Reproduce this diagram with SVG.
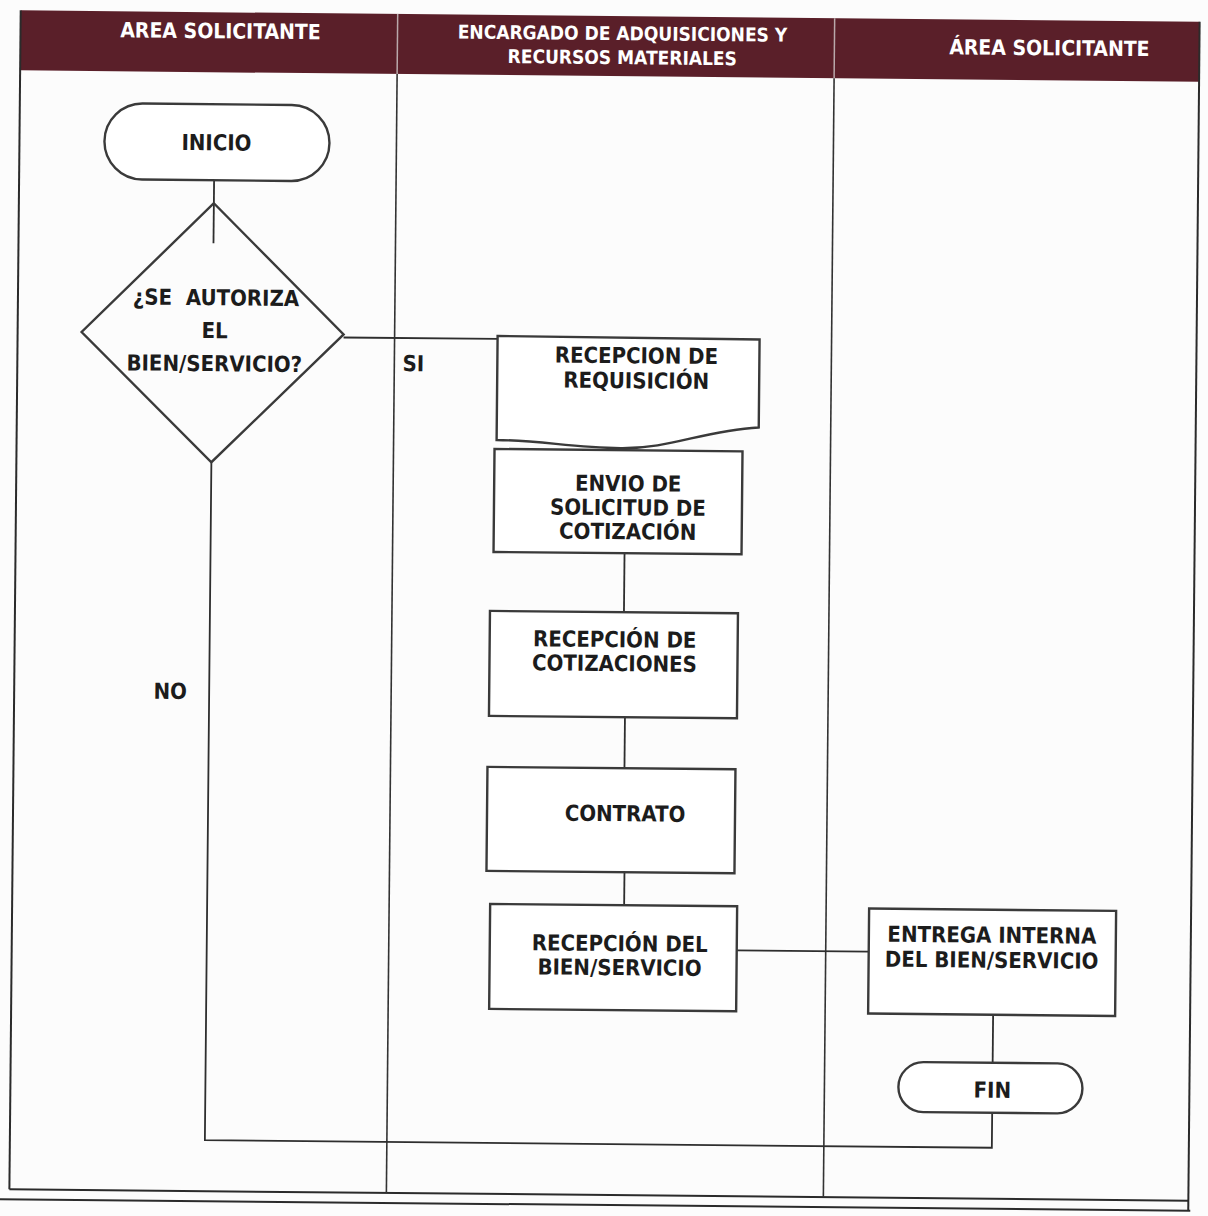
<svg xmlns="http://www.w3.org/2000/svg" width="1208" height="1216" viewBox="0 0 1208 1216">
  <style>
    .frame { fill: none; stroke: #2b2b2b; stroke-width: 2; }
    .lane { fill: none; stroke: #333; stroke-width: 1.6; }
    .shape { fill: #ffffff; stroke: #3a3a3a; stroke-width: 2.4; }
    .conn { fill: none; stroke: #2e2e2e; stroke-width: 1.8; }
    .hdr { fill: #ffffff; font-family: "DejaVu Sans Condensed", "DejaVu Sans", sans-serif; font-weight: bold; font-size: 21px; text-anchor: middle; }
    .hdr2 { font-size: 19px; }
    .lbl { fill: #1c1c1c; font-family: "DejaVu Sans Condensed", "DejaVu Sans", sans-serif; font-weight: bold; font-size: 22px; text-anchor: middle; }
  </style>
  <rect width="1208" height="1216" fill="#fcfcfc"/>
  <g transform="rotate(0.55 604 608)">
    <!-- swimlane frame and header -->
    <g id="lanes">
      <rect x="15" y="16" width="1179" height="60" fill="#5a1f29"/>
      <line x1="392" y1="16" x2="392" y2="76" stroke="#b9a8aa" stroke-width="1.5"/>
      <line x1="829" y1="16" x2="829" y2="76" stroke="#b9a8aa" stroke-width="1.5"/>
      <text class="hdr" x="215" y="42">AREA SOLICITANTE</text>
      <text class="hdr hdr2" x="617" y="40">ENCARGADO DE ADQUISICIONES Y</text>
      <text class="hdr hdr2" x="617" y="64">RECURSOS MATERIALES</text>
      <text class="hdr" x="1044" y="51">ÁREA SOLICITANTE</text>
      <line class="frame" x1="15" y1="16" x2="15" y2="1195"/>
      <line class="frame" x1="1194" y1="16" x2="1194" y2="1205"/>
      <line class="frame" x1="15" y1="1195" x2="1194" y2="1195"/>
      <line class="frame" x1="0" y1="1205" x2="1196" y2="1205"/>
      <line class="lane" x1="392" y1="76" x2="392" y2="1195"/>
      <line class="lane" x1="829" y1="76" x2="829" y2="1195"/>
    </g>

    <!-- connectors -->
    <g id="connectors">
      <line class="conn" x1="210" y1="184" x2="210" y2="247"/>
      <path class="conn" d="M341 340 H495"/>
      <path class="conn" d="M210 466 V1144 H997 V1109"/>
      <line class="conn" x1="624" y1="403" x2="624" y2="450"/>
      <line class="conn" x1="624" y1="553" x2="624" y2="612"/>
      <line class="conn" x1="626" y1="717" x2="626" y2="768"/>
      <line class="conn" x1="627" y1="872" x2="627" y2="905"/>
      <line class="conn" x1="740" y1="949" x2="872" y2="949"/>
      <line class="conn" x1="997" y1="1011" x2="997" y2="1059"/>
      <text class="lbl" x="411" y="373">SI</text>
      <text class="lbl" x="171" y="703">NO</text>
    </g>

    <g id="inicio">
      <rect class="shape" x="100" y="108" width="225" height="76" rx="38"/>
      <text class="lbl" x="212" y="154">INICIO</text>
    </g>

    <g id="autoriza">
      <polygon class="shape" points="210,207 341,337 210,466 79,337" style="fill:none"/>
      <text class="lbl" x="213" y="309" xml:space="preserve">¿SE  AUTORIZA</text>
      <text class="lbl" x="212" y="342">EL</text>
      <text class="lbl" x="212" y="375">BIEN/SERVICIO?</text>
    </g>

    <g id="requisicion">
      <path class="shape" d="M495 337 L757 338 L757 426 C700 430 670 448 619 448 C570 448 540 441 495 441 Z"/>
      <text class="lbl" x="634" y="363">RECEPCION DE</text>
      <text class="lbl" x="634" y="388">REQUISICIÓN</text>
    </g>

    <g id="envio">
      <rect class="shape" x="493" y="450" width="248" height="103"/>
      <text class="lbl" x="627" y="491">ENVIO DE</text>
      <text class="lbl" x="627" y="515">SOLICITUD DE</text>
      <text class="lbl" x="627" y="539">COTIZACIÓN</text>
    </g>

    <g id="cotizaciones">
      <rect class="shape" x="490" y="612" width="248" height="105"/>
      <text class="lbl" x="615" y="647">RECEPCIÓN DE</text>
      <text class="lbl" x="615" y="671">COTIZACIONES</text>
    </g>

    <g id="contrato">
      <rect class="shape" x="489" y="768" width="248" height="104"/>
      <text class="lbl" x="627" y="821">CONTRATO</text>
    </g>

    <g id="recepcion-bien">
      <rect class="shape" x="493" y="905" width="247" height="105"/>
      <text class="lbl" x="623" y="951">RECEPCIÓN DEL</text>
      <text class="lbl" x="623" y="975">BIEN/SERVICIO</text>
    </g>

    <g id="entrega">
      <rect class="shape" x="872" y="906" width="247" height="105"/>
      <text class="lbl" x="995" y="939">ENTREGA INTERNA</text>
      <text class="lbl" x="995" y="964">DEL BIEN/SERVICIO</text>
    </g>

    <g id="fin">
      <rect class="shape" x="903" y="1059" width="184" height="50" rx="25"/>
      <text class="lbl" x="997" y="1094">FIN</text>
    </g>
  </g>
</svg>
